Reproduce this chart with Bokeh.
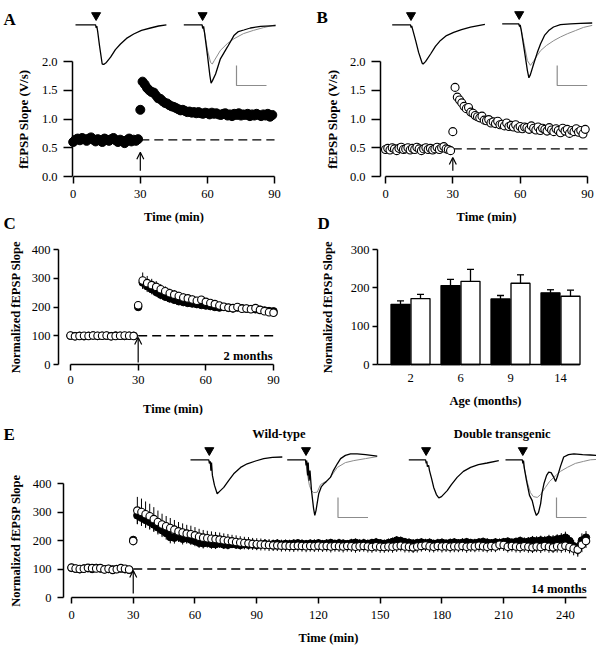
import math
from bokeh.plotting import figure
from bokeh.layouts import column, row
from bokeh.models import Range1d, Label, Arrow, OpenHead, FixedTicker, NumeralTickFormatter
from bokeh.embed import file_html
from bokeh.resources import INLINE

FONT = "Liberation Serif"

# ---------------- data ----------------
# Panel A (wild-type, raw fEPSP slope, V/s), one value per minute from 0 to 89
a_time = list(range(0, 90))
a_slope = [
    0.60, 0.64, 0.66, 0.63, 0.67, 0.65, 0.62, 0.66, 0.68, 0.64,
    0.61, 0.65, 0.63, 0.60, 0.66, 0.64, 0.62, 0.65, 0.67, 0.63,
    0.60, 0.64, 0.62, 0.58, 0.63, 0.66, 0.61, 0.64, 0.62, 0.65,
    1.16, 1.65, 1.60, 1.54, 1.50, 1.47, 1.46, 1.41, 1.36, 1.35,
    1.31, 1.28, 1.27, 1.24, 1.22, 1.21, 1.19, 1.17, 1.15, 1.16,
    1.14, 1.12, 1.13, 1.11, 1.12, 1.10, 1.12, 1.10, 1.09, 1.11,
    1.10, 1.08, 1.11, 1.09, 1.10, 1.08, 1.07, 1.09, 1.10, 1.06,
    1.08, 1.05, 1.09, 1.07, 1.10, 1.06, 1.08, 1.07, 1.09, 1.05,
    1.08, 1.06, 1.09, 1.07, 1.05, 1.08, 1.06, 1.09, 1.04, 1.07]

# Panel B (double transgenic, raw fEPSP slope, V/s)
b_time = list(range(0, 90))
b_slope = [
    0.47, 0.49, 0.46, 0.50, 0.48, 0.45, 0.49, 0.51, 0.47, 0.48,
    0.50, 0.46, 0.49, 0.47, 0.51, 0.48, 0.45, 0.48, 0.50, 0.47,
    0.49, 0.46, 0.48, 0.51, 0.47, 0.50, 0.52, 0.48, 0.47, 0.45,
    0.78, 1.55, 1.38, 1.33, 1.28, 1.22, 1.18, 1.20, 1.12, 1.10,
    1.06, 1.04, 1.02, 1.05, 0.98, 0.97, 0.99, 0.93, 0.95, 0.92,
    0.96, 0.90, 0.91, 0.88, 0.93, 0.87, 0.89, 0.86, 0.90, 0.84,
    0.87, 0.83, 0.86, 0.85, 0.82, 0.88, 0.84, 0.81, 0.86, 0.80,
    0.84, 0.82, 0.79, 0.85, 0.81, 0.78, 0.83, 0.80, 0.76, 0.84,
    0.79, 0.82, 0.75, 0.80, 0.78, 0.83, 0.77, 0.80, 0.74, 0.82]

TETANUS_MIN = 30
NORM_BASELINE = 100

# Panel C (2 months, normalized), every 2 min
c_time = list(range(0, 91, 2))
c_wt = [100, 99, 100, 98, 100, 101, 99, 100, 100, 99, 101, 100, 99, 100, 100,
        200,
        285, 272, 262, 252, 243, 236, 230, 225, 220, 217,
        214, 212, 210, 207, 205, 203, 200, 198, 200, 197,
        195, 198, 196, 194, 193, 192, 190, 188, 186, 185]
c_wt_err = [4, 3, 4, 3, 4, 3, 4, 3, 3, 4, 3, 4, 3, 3, 4,
            12,
            22, 20, 18, 17, 16, 15, 14, 14, 13, 13,
            12, 12, 12, 11, 11, 11, 10, 10, 10, 10,
            10, 10, 10, 9, 9, 9, 9, 9, 9, 9]
c_tg = [101, 98, 99, 100, 99, 101, 100, 100, 101, 98, 99, 100, 101, 100, 99,
        206,
        292, 283, 276, 270, 262, 255, 248, 243, 238, 233,
        230, 226, 222, 225, 218, 214, 210, 205, 201, 198,
        196, 200, 194, 195, 192, 196, 190, 185, 182, 180]
c_tg_err = [4, 4, 3, 4, 3, 4, 3, 4, 4, 3, 4, 3, 4, 3, 4,
            14,
            28, 25, 22, 20, 18, 17, 16, 16, 15, 15,
            14, 14, 13, 13, 13, 12, 12, 12, 12, 12,
            11, 11, 12, 11, 11, 12, 11, 11, 12, 11]

# Panel D (LTP magnitude by age)
ages = ["2", "6", "9", "14"]
d_wt = [157, 206, 171, 187]
d_wt_err = [9, 16, 9, 8]
d_tg = [172, 217, 212, 178]
d_tg_err = [11, 31, 22, 16]

# Panel E (14 months, normalized), every 2 min
e_time = list(range(0, 251, 2))
e_wt = [104, 101, 99, 102, 103, 100, 104, 102, 99, 100, 98, 100, 102, 99, 97,
        202,
        288, 280, 272, 265, 256, 246, 236, 226, 212, 210,
        215, 206, 208, 203, 198, 192, 190, 192, 188, 187,
        190, 186, 185, 188, 186, 184, 187, 185, 186, 184,
        186, 188, 185, 187, 189, 186, 188, 187, 189, 190,
        188, 187, 189, 188, 190, 187, 189, 191, 188, 190,
        189, 187, 190, 192, 189, 190, 188, 191, 193, 190,
        188, 191, 195, 200, 198, 194, 192, 189, 191, 193,
        190, 192, 188, 190, 192, 189, 191, 193, 190, 192,
        194, 191, 190, 193, 195, 192, 190, 193, 191, 194,
        196, 192, 195, 198, 194, 196, 199, 197, 200, 198,
        202, 200, 204, 206, 210, 198, 180, 172, 200, 210]
e_wt_err = [5, 4, 5, 4, 5, 4, 5, 4, 5, 4, 5, 4, 5, 4, 5,
            12,
            30, 29, 28, 27, 26, 25, 24, 23, 22, 21,
            20, 20, 19, 19, 18, 18, 18, 17, 17, 17,
            16, 16, 16, 15, 15, 16, 15, 15, 16, 15,
            15, 16, 15, 15, 16, 15, 15, 16, 15, 15,
            16, 15, 15, 16, 15, 15, 16, 15, 15, 16,
            15, 15, 16, 15, 15, 16, 15, 15, 16, 15,
            15, 16, 15, 15, 16, 15, 15, 16, 15, 15,
            16, 15, 15, 16, 15, 15, 16, 15, 15, 16,
            15, 15, 16, 15, 15, 16, 15, 15, 16, 15,
            15, 16, 15, 16, 17, 16, 17, 18, 17, 18,
            18, 19, 18, 20, 21, 20, 22, 24, 25, 23]
e_tg = [105, 102, 100, 101, 104, 103, 102, 103, 98, 101, 97, 99, 103, 101, 98,
        198,
        305, 300, 292, 285, 275, 265, 256, 250, 244, 238,
        232, 228, 224, 222, 218, 213, 210, 208, 206, 205,
        203, 201, 199, 197, 195, 193, 191, 190, 188, 187,
        186, 185, 184, 183, 183, 182, 182, 181, 181, 182,
        181, 180, 181, 180, 182, 180, 181, 179, 181, 180,
        179, 181, 180, 178, 180, 181, 179, 177, 180, 178,
        177, 179, 178, 180, 182, 179, 178, 176, 179, 181,
        183, 180, 178, 181, 179, 180, 178, 180, 179, 181,
        178, 180, 179, 182, 180, 178, 181, 179, 185, 184,
        178, 181, 179, 177, 180, 178, 176, 179, 177, 181,
        178, 176, 180, 178, 182, 177, 172, 168, 185, 198]
e_tg_err = [6, 5, 6, 5, 6, 5, 6, 5, 6, 5, 6, 5, 6, 5, 6,
            15,
            48, 47, 45, 44, 42, 40, 38, 36, 35, 34,
            33, 32, 31, 30, 29, 28, 27, 26, 26, 25,
            25, 24, 24, 23, 23, 22, 22, 22, 21, 21,
            21, 20, 21, 20, 20, 21, 20, 20, 21, 20,
            20, 21, 20, 20, 21, 20, 20, 21, 20, 20,
            21, 20, 20, 21, 20, 20, 21, 20, 20, 21,
            20, 20, 21, 20, 20, 21, 20, 20, 21, 20,
            20, 21, 20, 20, 21, 20, 20, 21, 20, 20,
            21, 20, 20, 21, 20, 20, 21, 20, 20, 21,
            20, 20, 21, 20, 20, 21, 20, 20, 21, 20,
            21, 20, 22, 21, 23, 22, 24, 25, 26, 24]

# Example traces: time (ms) and voltage (mV)
a1_t = [0, 6.7, 6.9, 7.1, 7.4, 8.0, 8.9, 9.4, 10.3, 11.7, 13.3, 15.0, 17.0, 19.4, 22.0, 25.0, 27.7, 30.3]
a1_v = [0, 0, -0.08, -0.03, -0.17, -0.52, -0.98, -0.99, -0.94, -0.81, -0.62, -0.48, -0.34, -0.23, -0.14, -0.08, -0.03, 0]
a2_t = [0, 6.1, 6.3, 6.6, 6.9, 7.9, 8.7, 9.1, 9.6, 10.6, 12.2, 14.5, 16.7, 18.2, 20.0, 22.2, 25.6, 30.6]
a2_v = [0, 0, -0.09, -0.04, -0.19, -0.77, -1.27, -1.46, -1.39, -1.23, -0.85, -0.56, -0.27, -0.17, -0.13, -0.08, -0.04, -0.02]
a2g_t = [6.1, 6.9, 7.9, 8.9, 9.5, 10.2, 12.2, 14.5, 16.7, 19.9, 23.2, 26.6, 30.6]
a2g_v = [0, -0.19, -0.64, -0.94, -0.98, -0.89, -0.64, -0.47, -0.35, -0.22, -0.14, -0.07, 0]

b1_t = [0, 6.1, 6.3, 6.5, 6.9, 7.8, 8.8, 10.0, 10.3, 11.1, 12.8, 14.4, 16.1, 18.1, 20.5, 23.1, 26.1, 30.9]
b1_v = [0, 0, -0.07, -0.03, -0.14, -0.39, -0.69, -0.96, -0.98, -0.92, -0.73, -0.54, -0.39, -0.27, -0.19, -0.12, -0.06, 0.01]
b2_t = [0, 5.5, 5.8, 6.0, 6.3, 7.4, 8.4, 8.9, 9.4, 10.5, 11.7, 12.8, 14.1, 15.5, 17.1, 19.4, 22.8, 26.1, 30.0]
b2_v = [0, 0, -0.07, -0.03, -0.14, -0.67, -1.17, -1.35, -1.27, -1.0, -0.72, -0.5, -0.29, -0.17, -0.08, -0.02, 0, 0.01, 0.02]
b2g_t = [5.5, 6.3, 7.4, 8.4, 9.4, 10.4, 11.7, 12.8, 14.8, 17.2, 19.4, 21.7, 24.4, 27.1, 30.0]
b2g_v = [0, -0.14, -0.54, -0.92, -1.04, -0.94, -0.79, -0.67, -0.54, -0.42, -0.33, -0.25, -0.17, -0.09, -0.04]

wt1_t = [0, 6.1, 6.3, 6.6, 6.8, 7.0, 7.3, 8.0, 8.9, 9.7, 11.1, 12.7, 14.4, 16.7, 18.9, 21.7, 24.4, 27.3, 30.6]
wt1_v = [0, 0, -0.09, -0.04, -0.27, -0.07, -0.39, -0.64, -0.85, -0.79, -0.69, -0.52, -0.35, -0.19, -0.10, -0.03, 0.03, 0.06, 0.07]
wt2_t = [0, 6.1, 6.3, 6.5, 6.8, 7.0, 7.3, 7.6, 8.1, 8.8, 9.2, 9.6, 10.5, 11.4, 12.2, 13.1, 14.4, 15.4, 16.7, 17.8, 19.4, 21.1, 23.3, 26.1, 30.0]
wt2_v = [0, 0, -0.14, -0.02, -0.39, -0.07, -0.52, -0.27, -0.77, -1.22, -1.39, -1.27, -0.85, -0.67, -0.6, -0.54, -0.44, -0.27, -0.10, 0.03, 0.11, 0.15, 0.15, 0.13, 0.09]
wt2g_t = [6.1, 6.8, 7.4, 8.1, 8.8, 10.0, 11.1, 13.3, 14.4, 16.7, 19.4, 22.2, 26.1, 30.0]
wt2g_v = [0, -0.39, -0.64, -0.77, -0.82, -0.81, -0.62, -0.52, -0.44, -0.19, -0.07, -0.02, 0.03, 0.08]

tg1_t = [0, 5.6, 5.8, 6.0, 6.2, 6.6, 6.9, 7.6, 8.3, 9.2, 10.0, 10.9, 12.8, 14.2, 16.1, 18.2, 20.6, 23.2, 26.1, 30.0]
tg1_v = [0, 0, -0.09, -0.04, -0.17, -0.14, -0.27, -0.47, -0.69, -0.87, -0.95, -0.92, -0.77, -0.62, -0.44, -0.29, -0.19, -0.12, -0.08, -0.02]
tg2_t = [0, 5.6, 5.8, 6.0, 6.3, 7.0, 8.0, 8.9, 9.7, 10.3, 11.0, 11.7, 12.2, 12.8, 13.7, 14.4, 15.2, 16.1, 16.7, 17.3, 18.3, 19.4, 21.0, 22.8, 25.7, 28.3, 30.5]
tg2_v = [0, 0, -0.09, -0.02, -0.22, -0.52, -0.89, -1.02, -1.27, -1.39, -1.32, -1.1, -0.82, -0.6, -0.39, -0.31, -0.32, -0.44, -0.54, -0.42, -0.17, 0.07, 0.13, 0.15, 0.13, 0.12, 0.11]
tg2g_t = [5.6, 6.3, 7.3, 8.3, 9.3, 10.6, 11.7, 13.3, 14.7, 16.1, 18.3, 20.6, 23.3, 26.0, 28.3, 30.5]
tg2g_v = [0, -0.22, -0.57, -0.82, -0.92, -0.94, -0.87, -0.69, -0.54, -0.44, -0.29, -0.19, -0.09, -0.04, 0, 0.01]

SCALE_MS = 10
SCALE_MV = 0.5

# ---------------- styling helpers ----------------
PX_MS = 3.0
PX_MV = 40.0
GREY = "#8c8c8c"


def make_fig(canvas, x0px, xscale, y0px, yscale, yaxis_px, xaxis_py):
    """Frame fills the whole canvas; axes are drawn at fixed locations inside it."""
    cx, cy, cw, ch = canvas
    xr = Range1d((cx - x0px) / xscale, (cx + cw - x0px) / xscale)
    yr = Range1d((y0px - (cy + ch)) / yscale, (y0px - cy) / yscale)
    p = figure(width=cw, height=ch, x_range=xr, y_range=yr, title=None,
               output_backend="svg", toolbar_location=None, min_border=0)
    p.extra_x_ranges = {"px": Range1d(cx, cx + cw)}
    p.extra_y_ranges = {"py": Range1d(cy + ch, cy)}
    p.grid.visible = False
    p.outline_line_color = None
    p.background_fill_color = "white"
    p.border_fill_color = "white"
    p.yaxis[0].fixed_location = (yaxis_px - x0px) / xscale
    p.xaxis[0].fixed_location = (y0px - xaxis_py) / yscale
    return p


def style_axis(ax, bounds, ticks, tick_out, standoff, fmt=None):
    if bounds is not None:
        ax.bounds = bounds
    ax.ticker = FixedTicker(ticks=ticks)
    ax.minor_tick_line_color = None
    ax.major_tick_in = 0
    ax.major_tick_out = tick_out
    ax.axis_line_width = 1.5
    ax.major_tick_line_width = 1.5
    ax.axis_line_color = "black"
    ax.major_tick_line_color = "black"
    ax.major_label_text_font = FONT
    ax.major_label_text_font_size = "12.5px"
    ax.major_label_text_color = "black"
    ax.major_label_standoff = standoff
    if fmt:
        ax.formatter = NumeralTickFormatter(format=fmt)


def lab(p, x, y, text, size="12.5px", bold=True, align="center", baseline="middle", angle=0.0):
    p.add_layout(Label(x=x, y=y, x_range_name="px", y_range_name="py", text=text,
                       text_font=FONT, text_font_size=size,
                       text_font_style="bold" if bold else "normal",
                       text_align=align, text_baseline=baseline, angle=angle,
                       text_color="black"))


def trace(p, x0, y0, t, v, color="black", lw=1.3):
    xs = [x0 + ti * PX_MS for ti in t]
    ys = [y0 - vi * PX_MV for vi in v]
    p.line(xs, ys, x_range_name="px", y_range_name="py", line_color=color, line_width=lw)


def stim(p, x0, y0, t):
    p.scatter([x0 + t[1] * PX_MS + 0.5], [y0 - 9.5], marker="inverted_triangle", size=9,
              x_range_name="px", y_range_name="py", color="black")


def scalebar(p, cx, cy):
    p.line([cx, cx, cx + SCALE_MS * PX_MS], [cy - SCALE_MV * PX_MV, cy, cy],
           x_range_name="px", y_range_name="py", line_color=GREY, line_width=1.2)


def arrow(p, x, y0, y1):
    p.add_layout(Arrow(end=OpenHead(size=7, line_width=1.2, line_color="black"),
                       x_start=x, y_start=y0, x_end=x, y_end=y1,
                       line_width=1.2, line_color="black"))


HALF_PI = math.pi / 2
W_HALF = 298
ROW1_H = 231
ROW2_H = 184
ROW3_H = 232

# ---------------- Panel A ----------------
pA = make_fig((0, 0, W_HALF, ROW1_H), 72.7, 2.237, 176, 57.5, 72, 176)
style_axis(pA.yaxis[0], (0, 2), [0, 0.5, 1.0, 1.5, 2.0], 9, 6, "0.0")
style_axis(pA.xaxis[0], (0, 90), [0, 30, 60, 90], 7, 6)
base_a = sum(a_slope[:30]) / 30
pA.line([TETANUS_MIN, 90], [base_a, base_a], line_color="black", line_width=1.3, line_dash="9 5")
pA.scatter(a_time, a_slope, size=9, color="black")
arrow(pA, TETANUS_MIN, 0.1, 0.42)
trace(pA, 75, 24.3, a1_t, a1_v)
stim(pA, 75, 24.3, a1_t)
trace(pA, 183.3, 24.3, a2g_t, a2g_v, GREY, 1.0)
trace(pA, 183.3, 24.3, a2_t, a2_v)
stim(pA, 183.3, 24.3, a2_t)
scalebar(pA, 236, 85)
lab(pA, 3, 18.5, "A", size="17px", align="left", baseline="alphabetic")
lab(pA, 3, 222.5, "C", size="17px", align="left", baseline="alphabetic")
lab(pA, 23, 118.5, "fEPSP Slope (V/s)", size="13px", angle=HALF_PI)
lab(pA, 173.5, 216, "Time (min)")

# ---------------- Panel B ----------------
pB = make_fig((W_HALF, 0, W_HALF, ROW1_H), 385, 2.244, 176, 57.5, 380, 176)
style_axis(pB.yaxis[0], (0, 2), [0, 0.5, 1.0, 1.5, 2.0], 9, 6, "0.0")
style_axis(pB.xaxis[0], (0, 90), [0, 30, 60, 90], 7, 6)
base_b = sum(b_slope[:30]) / 30
pB.line([TETANUS_MIN, 90], [base_b, base_b], line_color="black", line_width=1.3, line_dash="9 5")
pB.scatter(b_time, b_slope, size=8, fill_color="white", line_color="black", line_width=1.1)
arrow(pB, TETANUS_MIN, 0.1, 0.33)
trace(pB, 391.7, 24.3, b1_t, b1_v)
stim(pB, 391.7, 24.3, b1_t)
trace(pB, 501.7, 23.3, b2g_t, b2g_v, GREY, 1.0)
trace(pB, 501.7, 23.3, b2_t, b2_v)
stim(pB, 501.7, 23.3, b2_t)
scalebar(pB, 556.7, 85)
lab(pB, 316, 17, "B", size="17px", align="left", baseline="alphabetic")
lab(pB, 317, 222.5, "D", size="17px", align="left", baseline="alphabetic")
lab(pB, 332, 118.5, "fEPSP Slope (V/s)", size="13px", angle=HALF_PI)
lab(pB, 486, 216, "Time (min)")

# ---------------- Panel C ----------------
pC = make_fig((0, ROW1_H, W_HALF, ROW2_H), 70, 2.256, 364, 0.2875, 58, 364)
style_axis(pC.yaxis[0], (0, 400), [0, 100, 200, 300, 400], 5, 3)
style_axis(pC.xaxis[0], (0, 90), [0, 30, 60, 90], 6, 5)
pC.line([TETANUS_MIN, 90], [NORM_BASELINE, NORM_BASELINE], line_color="black", line_width=1.3, line_dash="9 5")
pC.segment(c_time, [v - e for v, e in zip(c_wt, c_wt_err)], c_time, [v + e for v, e in zip(c_wt, c_wt_err)],
           line_color="black", line_width=1.0)
pC.segment(c_time, [v - e for v, e in zip(c_tg, c_tg_err)], c_time, [v + e for v, e in zip(c_tg, c_tg_err)],
           line_color="black", line_width=1.0)
pC.scatter(c_time, c_wt, size=7.5, color="black")
pC.scatter(c_time, c_tg, size=7.5, fill_color="white", line_color="black", line_width=1.1)
arrow(pC, TETANUS_MIN, 7, 94)
lab(pC, 15, 306.5, "Normalized fEPSP Slope", angle=HALF_PI)
lab(pC, 172.5, 408, "Time (min)")
lab(pC, 272, 355, "2 months", align="right")

# ---------------- Panel D ----------------
pD = make_fig((W_HALF, ROW1_H, W_HALF, ROW2_H), 360, 50, 364, 0.3833, 377, 364)
pos = [i + 1 for i in range(len(ages))]
style_axis(pD.yaxis[0], (0, 300), [0, 100, 200, 300], 5, 3)
style_axis(pD.xaxis[0], (0.34, 4.38), pos, 0, 9)
pD.xaxis[0].major_label_overrides = {pp: a for pp, a in zip(pos, ages)}
BW = 0.38
xw = [pp - 0.2 for pp in pos]
xt = [pp + 0.2 for pp in pos]
pD.vbar(x=xw, width=BW, top=d_wt, bottom=0, fill_color="black", line_color="black", line_width=1.3)
pD.vbar(x=xt, width=BW, top=d_tg, bottom=0, fill_color="white", line_color="black", line_width=1.3)
for xs, tops, errs in ((xw, d_wt, d_wt_err), (xt, d_tg, d_tg_err)):
    hi = [t + e for t, e in zip(tops, errs)]
    pD.segment(xs, tops, xs, hi, line_color="black", line_width=1.3)
    pD.segment([x - 0.07 for x in xs], hi, [x + 0.07 for x in xs], hi, line_color="black", line_width=1.3)
lab(pD, 327, 306.5, "Normalized fEPSP Slope", angle=HALF_PI)
lab(pD, 485, 400, "Age (months)")

# ---------------- Panel E ----------------
pE = make_fig((0, ROW1_H + ROW2_H, 2 * W_HALF, ROW3_H), 71, 2.058, 597, 0.285, 63, 597)
style_axis(pE.yaxis[0], (0, 400), [0, 100, 200, 300, 400], 6, 6)
style_axis(pE.xaxis[0], (0, 250), [0, 30, 60, 90, 120, 150, 180, 210, 240], 6, 7)
pE.line([TETANUS_MIN, 250], [NORM_BASELINE, NORM_BASELINE], line_color="black", line_width=1.3, line_dash="9 5")
pE.segment(e_time, [v - e for v, e in zip(e_wt, e_wt_err)], e_time, [v + e for v, e in zip(e_wt, e_wt_err)],
           line_color="black", line_width=1.0)
pE.segment(e_time, [v - e for v, e in zip(e_tg, e_tg_err)], e_time, [v + e for v, e in zip(e_tg, e_tg_err)],
           line_color="black", line_width=1.0)
pE.scatter(e_time, e_wt, size=7.5, color="black")
pE.scatter(e_time, e_tg, size=7.5, fill_color="white", line_color="black", line_width=1.1)
arrow(pE, TETANUS_MIN, 14, 95)
trace(pE, 190, 459.3, wt1_t, wt1_v)
stim(pE, 190, 459.3, wt1_t)
trace(pE, 286.7, 459.3, wt2g_t, wt2g_v, GREY, 1.0)
trace(pE, 286.7, 459.3, wt2_t, wt2_v)
stim(pE, 286.7, 459.3, wt2_t)
scalebar(pE, 337.5, 517)
trace(pE, 408.3, 459.3, tg1_t, tg1_v)
stim(pE, 408.3, 459.3, tg1_t)
trace(pE, 505, 459.3, tg2g_t, tg2g_v, GREY, 1.0)
trace(pE, 505, 459.3, tg2_t, tg2_v)
stim(pE, 505, 459.3, tg2_t)
scalebar(pE, 556, 517)
lab(pE, 3, 434, "E", size="17px", align="left", baseline="alphabetic")
lab(pE, 15.5, 540, "Normalized fEPSP Slope", angle=HALF_PI)
lab(pE, 328, 637, "Time (min)")
lab(pE, 586, 588, "14 months", align="right")
lab(pE, 278.3, 433.3, "Wild-type")
lab(pE, 501.7, 433.3, "Double transgenic")

layout = column(row(pA, pB), row(pC, pD), pE)
open("out.html", "w").write(file_html(layout, INLINE))
